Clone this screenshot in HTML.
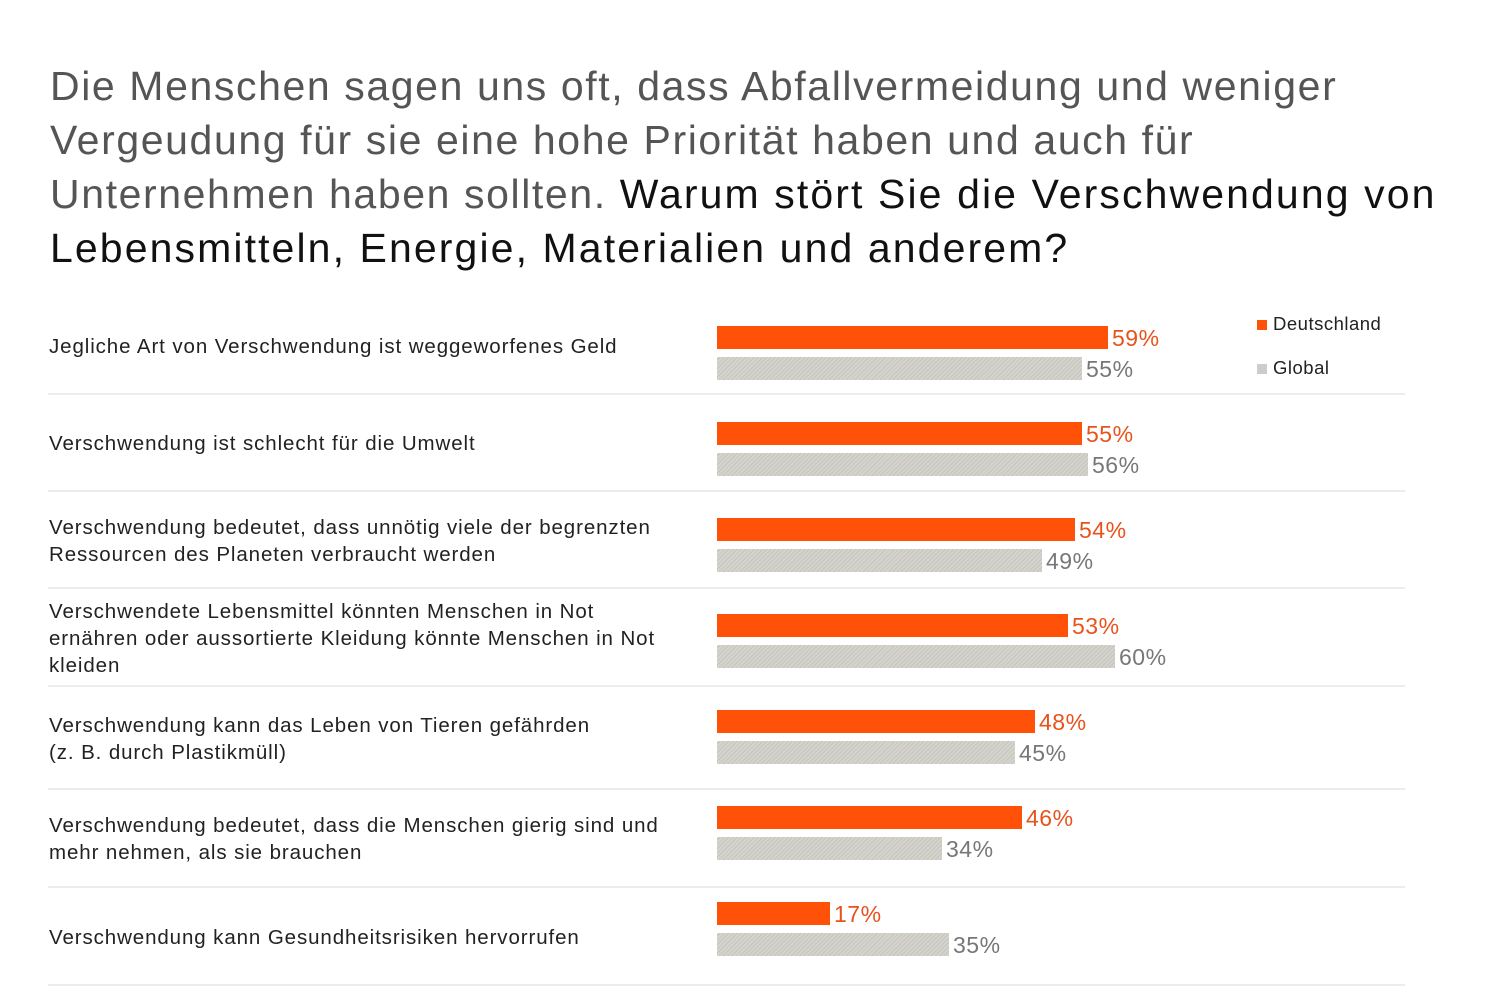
<!DOCTYPE html>
<html><head><meta charset="utf-8"><style>
body{margin:0;width:1500px;height:1000px;background:#fff;font-family:"Liberation Sans",sans-serif;position:relative;overflow:hidden}
.t{position:absolute;left:50px;top:59px;width:1450px;font-size:41px;line-height:54px;color:#555;letter-spacing:1.6px;white-space:nowrap}
.t b{font-weight:normal;color:#111;letter-spacing:2.1px}
.lab{position:absolute;left:49px;font-size:20.5px;line-height:27px;color:#222;letter-spacing:0.9px;white-space:nowrap}
.bar{position:absolute;left:717px;height:23px}
.o{background:#ff5208}
.g{background:repeating-linear-gradient(135deg,#d4d3cc 0 2px,#c6c5bd 2px 3px)}
.v{position:absolute;font-size:23px;line-height:23px;letter-spacing:0.5px}
.vo{color:#e8531c}.vg{color:#777}
.sep{position:absolute;left:48px;width:1357px;height:2px;background:#ececec}
.lg{position:absolute;left:1257px;font-size:18.5px;color:#222;letter-spacing:0.5px}
.lg i{display:inline-block;width:10px;height:10px;margin-right:6px}
</style></head><body>
<div class="t">Die Menschen sagen uns oft, dass Abfallvermeidung und weniger<br>Vergeudung für sie eine hohe Priorität haben und auch für<br>Unternehmen haben sollten. <b>Warum stört Sie die Verschwendung von</b><br><b>Lebensmitteln, Energie, Materialien und anderem?</b></div>
<div class="lg" style="top:313px"><i style="background:#ff5208"></i>Deutschland</div>
<div class="lg" style="top:357px"><i style="background:#ccc"></i>Global</div>

<div class="lab" style="top:333px">Jegliche Art von Verschwendung ist weggeworfenes Geld</div>
<div class="lab" style="top:430px">Verschwendung ist schlecht für die Umwelt</div>
<div class="lab" style="top:514px">Verschwendung bedeutet, dass unnötig viele der begrenzten<br>Ressourcen des Planeten verbraucht werden</div>
<div class="lab" style="top:598px">Verschwendete Lebensmittel könnten Menschen in Not<br>ernähren oder aussortierte Kleidung könnte Menschen in Not<br>kleiden</div>
<div class="lab" style="top:712px">Verschwendung kann das Leben von Tieren gefährden<br>(z. B. durch Plastikmüll)</div>
<div class="lab" style="top:812px">Verschwendung bedeutet, dass die Menschen gierig sind und<br>mehr nehmen, als sie brauchen</div>
<div class="lab" style="top:924px">Verschwendung kann Gesundheitsrisiken hervorrufen</div>

<div class="bar o" style="top:326px;width:391px"></div><div class="v vo" style="top:327px;left:1112px">59%</div>
<div class="bar g" style="top:357px;width:365px"></div><div class="v vg" style="top:358px;left:1086px">55%</div>
<div class="sep" style="top:393px"></div>

<div class="bar o" style="top:422px;width:365px"></div><div class="v vo" style="top:423px;left:1086px">55%</div>
<div class="bar g" style="top:453px;width:371px"></div><div class="v vg" style="top:454px;left:1092px">56%</div>
<div class="sep" style="top:490px"></div>

<div class="bar o" style="top:518px;width:358px"></div><div class="v vo" style="top:519px;left:1079px">54%</div>
<div class="bar g" style="top:549px;width:325px"></div><div class="v vg" style="top:550px;left:1046px">49%</div>
<div class="sep" style="top:587px"></div>

<div class="bar o" style="top:614px;width:351px"></div><div class="v vo" style="top:615px;left:1072px">53%</div>
<div class="bar g" style="top:645px;width:398px"></div><div class="v vg" style="top:646px;left:1119px">60%</div>
<div class="sep" style="top:685px"></div>

<div class="bar o" style="top:710px;width:318px"></div><div class="v vo" style="top:711px;left:1039px">48%</div>
<div class="bar g" style="top:741px;width:298px"></div><div class="v vg" style="top:742px;left:1019px">45%</div>
<div class="sep" style="top:788px"></div>

<div class="bar o" style="top:806px;width:305px"></div><div class="v vo" style="top:807px;left:1026px">46%</div>
<div class="bar g" style="top:837px;width:225px"></div><div class="v vg" style="top:838px;left:946px">34%</div>
<div class="sep" style="top:886px"></div>

<div class="bar o" style="top:902px;width:113px"></div><div class="v vo" style="top:903px;left:834px">17%</div>
<div class="bar g" style="top:933px;width:232px"></div><div class="v vg" style="top:934px;left:953px">35%</div>
<div class="sep" style="top:984px"></div>
</body></html>
